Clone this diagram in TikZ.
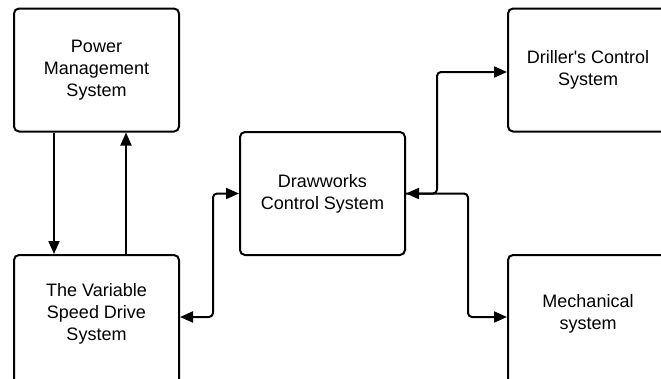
\documentclass[tikz,border=0pt]{standalone}
\usepackage{fontspec}
\setmainfont{Liberation Sans}
\usetikzlibrary{arrows.meta,calc}
\begin{document}
\begin{tikzpicture}[x=1pt,y=-1pt,
  boxtext/.style={align=center, inner sep=0pt,
    font=\fontsize{18}{22}\selectfont},
  block/.style={boxtext, draw, line width=2pt, rounded corners=5pt,
    minimum width=165pt, minimum height=123pt},
  lowblock/.style={block, minimum height=130pt},
  link/.style={line width=2pt, rounded corners=4pt,
    >={Triangle[length=13pt,width=11pt]}}]
\useasboundingbox (0,0) rectangle (661,378);
\clip (0,0) rectangle (661,378);
% boxes (the two lower ones run past the bottom edge)
\node[block] (pms) at (96.5,70) {Power\\Management\\System};
\node[lowblock] (vsd) at (96.5,320) {};
\node[boxtext] (vsdtext) at ($(vsd.center)+(0,-6)$) {The Variable\\Speed Drive\\System};
\node[block] (dw)  at (322.5,193.5) {Drawworks\\Control System};
\node[block, minimum width=160pt] (dr) at (588,70) {Driller\textquotesingle s Control\\System};
\node[lowblock, minimum width=160pt] (me) at (588,320) {};
\node[boxtext] (metext) at ($(me.center)+(0,-6)$) {Mechanical\\system};
% power management <-> variable speed drive
\draw[link,->] ($(pms.south west)+(41,0)$) -- ($(vsd.north west)+(41,0)$);
\draw[link,->] ($(vsd.north west)+(113,0)$) -- ($(pms.south west)+(113,0)$);
% drive <-> drawworks
\draw[link,<->] ($(vsd.east)+(0,-3)$) -- ++(33,0) |- (dw.west);
% drawworks <-> driller's control / mechanical
\draw[link,<->] (dw.east) -- ++(31,0) |- ($(dr.west)+(0,2)$);
\draw[link,->] (dw.east) -- ++(62,0) |- ($(me.west)+(0,-3)$);
\end{tikzpicture}
\end{document}
